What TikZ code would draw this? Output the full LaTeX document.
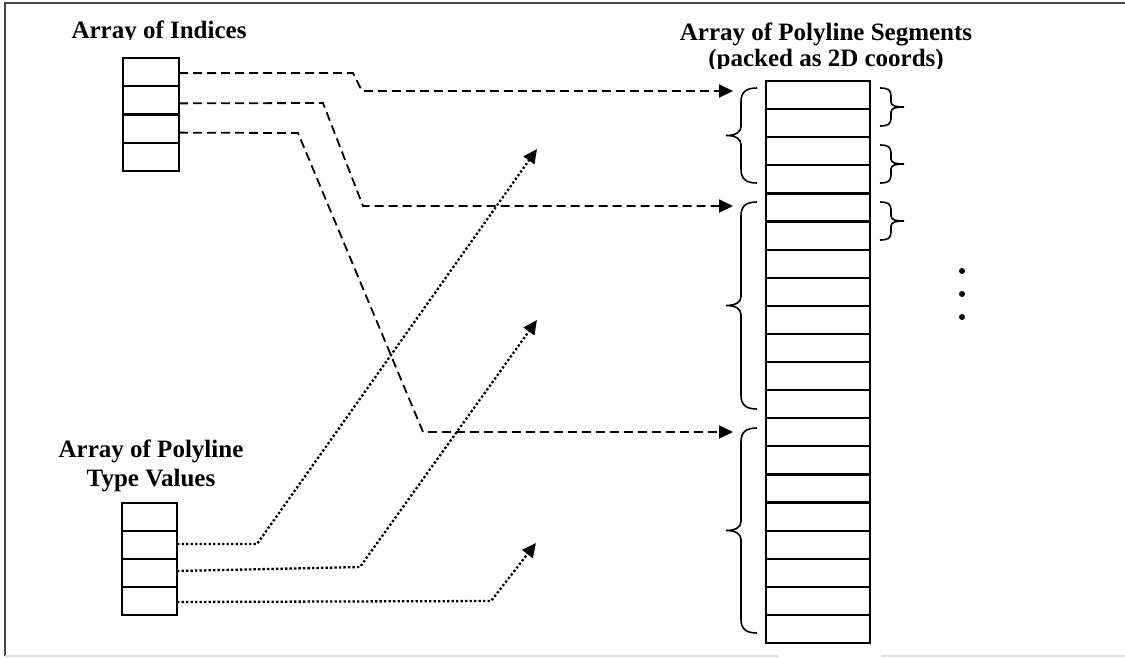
\documentclass[tikz,border=0pt]{standalone}
\usepackage{fontspec}
\setmainfont{Liberation Serif}
\usetikzlibrary{arrows.meta,calc}
\begin{document}
\begin{tikzpicture}[x=1pt,y=-1pt,
  cellbox/.style={draw, line width=2.2pt, inner sep=0pt, outer sep=0pt},
  idxcell/.style={cellbox, minimum width=56pt, minimum height=28.25pt},
  typcell/.style={cellbox, minimum width=55pt, minimum height=28pt},
  segcell/.style={cellbox, minimum width=104pt, minimum height=28.1pt},
  title/.style={font=\fontsize{25}{25}\selectfont\bfseries, inner sep=0pt, anchor=base},
  dashc/.style={line width=1.8pt, dash pattern=on 9pt off 5pt, -{Triangle[length=14pt,width=13pt]}},
  dotc/.style={line width=2.3pt, dash pattern=on 2.3pt off 2.2pt, -{Triangle[length=14pt,width=13pt]}},
  bracel/.style={line width=1.6pt},
]
\useasboundingbox (0,0) rectangle (1125,657);
% frame
\draw[gray!55!black, line width=2pt] (5,656) -- (5,3) -- (1125,3);
\draw[gray!25, line width=1.5pt] (5,656) -- (779,656) (881,656) -- (1125,656);

% titles
\begin{scope}
  \clip (0,0) rectangle (400,39.5);
  \node[title] (tidx) at (159,38) {Array of Indices};
\end{scope}
\node[title] (tseg1) at (826,40) {Array of Polyline Segments};
\begin{scope}
  \clip (600,45) rectangle (1100,68);
  \node[title] (tseg2) at (826,66) {(packed as 2D coords)};
\end{scope}
\node[title] (ttyp1) at (151,457) {Array of Polyline};
\node[title] (ttyp2) at (151,486) {Type Values};

% index array
\foreach \k in {1,...,4}
  \node[idxcell] (i\k) at (151,{58+28.25*(\k-0.5)}) {};
% type array
\foreach \k in {1,...,4}
  \node[typcell] (p\k) at (149.5,{503+28*(\k-0.5)}) {};
% segment array
\foreach \k in {1,...,20}
  \node[segcell] (s\k) at (818,{81+28.1*(\k-0.5)}) {};

% arrow targets
\coordinate (ta) at (733,91);
\coordinate (tb) at (733,206);
\coordinate (tc) at (733,432);
\coordinate (ua) at (537,149);
\coordinate (ub) at (537,320);
\coordinate (uc) at (536,543);

% dashed connectors
\draw[dashc] ($(i1.east)+(0,1)$) -- (353,73) -- (362,91) -- (ta);
\draw[dashc] ($(i2.east)+(0,3)$) -- (323,103) -- (363,206) -- (tb);
\draw[dashc] ($(i3.east)+(0,4)$) -- (298,133) -- (423,432) -- (tc);

% dotted connectors
\draw[dotc] ($(p2.east)+(0,-1)$) -- (257,544) -- (ua);
\draw[dotc] ($(p3.east)+(0,-2)$) -- (360,567) -- (ub);
\draw[dotc] ($(p4.east)+(0,1)$) -- (491,601) -- (uc);

% left braces
\foreach \t/\b in {88/183, 202/409, 428/633}{
  \pgfmathsetmacro{\m}{(\t+\b)/2}
  \draw[bracel] (757,\t) .. controls (746,\t) and (741,\t+4) .. (741,\t+14)
    -- (741,\m-9) .. controls (741,\m-3) and (735,\m) .. (726,\m)
    .. controls (735,\m) and (741,\m+3) .. (741,\m+9)
    -- (741,\b-14) .. controls (741,\b-4) and (746,\b) .. (757,\b);
}
% right braces
\foreach \t/\b in {88/126, 145/183, 202/240}{
  \pgfmathsetmacro{\m}{(\t+\b)/2}
  \draw[bracel] (880,\t) .. controls (888,\t) and (891,\t+2) .. (891,\t+8)
    -- (891,\m-5) .. controls (891,\m-1) and (896,\m) .. (904,\m)
    .. controls (896,\m) and (891,\m+1) .. (891,\m+5)
    -- (891,\b-8) .. controls (891,\b-2) and (888,\b) .. (880,\b);
}
% continuation dots
\fill (962,271) circle (3);
\fill (962,294) circle (3);
\fill (962,317) circle (3);
\end{tikzpicture}
\end{document}
